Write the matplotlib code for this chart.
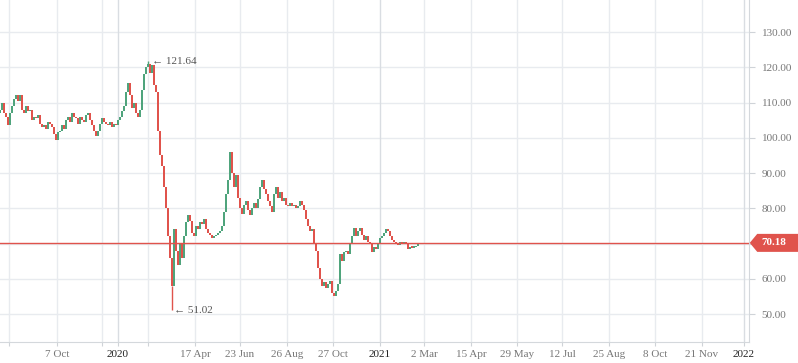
import numpy as np
import matplotlib.pyplot as plt
import matplotlib.transforms as mtransforms
from matplotlib.patches import Polygon

# daily closes, one every 2 trading days (position unit = 1 trading day)
closes = [
    108, 110, 107, 106, 103.5, 107, 109, 111, 112, 110.5,
    112, 108, 107, 109, 107.5, 108, 105, 106, 105.5, 106.5,
    104, 103, 103.5, 102.5, 104.5, 104, 103, 101, 99.5, 101.5,
    102, 103.5, 102.5, 105, 106, 104.5, 107, 106, 105.5, 104,
    106, 105, 104.5, 106.5, 107, 105, 103.5, 102, 100.5, 102,
    104, 105.5, 104.5, 104, 103.5, 104.5, 103, 104, 103.5, 105,
    106, 107.5, 109, 113, 115.5, 112, 108.5, 110, 107, 106,
    108, 113.5, 118, 120, 121, 118.5, 120.5, 115, 113, 102,
    95, 92, 86, 80, 72, 66, 58, 74, 68, 64,
    70, 66, 72, 76, 78, 76.5, 73, 72, 75, 74,
    76, 75.5, 77, 74, 73, 72.5, 71.5, 72, 72.5, 73,
    73.5, 75, 79, 84, 88, 96, 90, 86, 89.5, 83,
    80, 78.5, 81, 82, 79.5, 78, 80, 81.5, 80, 82.5,
    86, 88, 85.5, 84, 82, 80.5, 79, 84, 86, 83,
    84.5, 82, 83, 81, 80.5, 81.5, 80.5, 81, 80, 80.5,
    82, 81, 79.5, 77, 75, 73.5, 74, 70, 68, 63,
    60, 58, 59, 57.5, 58.5, 59.5, 56, 55, 56.5, 58.5,
    67, 65, 67.5, 68, 67, 70, 72, 74.5, 72, 73.5,
    74.5, 72.5, 71, 72, 70.5, 70, 67.5, 69, 68.5, 70,
    71.5, 72, 73, 74, 73.5, 72, 71, 70.5, 70, 69.5,
    70.5, 70, 70.3, 69.8, 68.5, 69, 68.8, 69, 69.2, 70.18,
]
first_open = 107
high_value = 121.64
high_bar = 74
low_value = 51.02
low_bar = 86
last_price = 70.18

tick_pos = [9, 57, 102, 118, 148, 195, 240, 287, 333, 380, 424,
            471, 517, 562, 609, 655, 702, 744]
tick_labels = ['', '7 Oct', '', '2020', '', '17 Apr', '23 Jun', '26 Aug',
               '27 Oct', '2021', '2 Mar', '15 Apr', '29 May', '12 Jul',
               '25 Aug', '8 Oct', '21 Nov', '2022']
price_ticks = [50, 60, 70, 80, 90, 100, 110, 120, 130]

up_col = '#4fa47c'
down_col = '#e0534c'
grid_col = '#e8ebef'
serif = ['Liberation Serif', 'DejaVu Serif']

closes = np.array(closes)
opens = np.concatenate([[first_open], closes[:-1]])
xs = np.arange(len(closes)) * 2
colors = [up_col if c >= o else down_col for o, c in zip(opens, closes)]
bottoms = np.minimum(opens, closes)
heights = np.maximum(np.abs(closes - opens), 0.4)

fig = plt.figure(figsize=(7.98, 3.63), dpi=100)
ax = fig.add_axes([0, 21 / 363, 749 / 798, 342 / 363])

for p in price_ticks:
    ax.axhline(p, color=grid_col, lw=1, zorder=0)
for t, lab in zip(tick_pos, tick_labels):
    c = '#d9dde2' if lab in ('2020', '2021', '2022') else grid_col
    ax.axvline(t, color=c, lw=1, zorder=0)

ax.bar(xs, heights, bottom=bottoms, width=1.3, color=colors, linewidth=0, zorder=2)
ax.vlines(xs[high_bar], closes[high_bar], high_value, color=colors[high_bar], lw=1, zorder=2)
ax.vlines(xs[low_bar], low_value, closes[low_bar], color=colors[low_bar], lw=1, zorder=2)

ax.axhline(last_price, color=down_col, lw=1, zorder=3)

ax.text(xs[high_bar] + 4, high_value, '\u2190 121.64', fontsize=8, family=serif,
        color='#555555', va='center', ha='left')
ax.text(xs[low_bar] + 2, low_value, '\u2190 51.02', fontsize=8, family=serif,
        color='#555555', va='center', ha='left')

ax.set_xlim(0, 749)
ax.set_ylim(42.06, 139.08)

ax.set_xticks(tick_pos)
ax.set_xticklabels(tick_labels, fontsize=8, family=serif, color='#777777')
for lab in ax.get_xticklabels():
    if lab.get_text() in ('2020', '2021', '2022'):
        lab.set_color('#222222')
ax.tick_params(axis='x', length=3, color='#cfd3d8', pad=3)

# the 70.00 label sits under the last price tag, so it is left blank
ax.yaxis.tick_right()
ax.set_yticks(price_ticks)
ax.set_yticklabels(['' if p == 70 else f'{p:.2f}' for p in price_ticks],
                   fontsize=8, family=serif, color='#777777')
ax.tick_params(axis='y', length=4, color='#cfd3d8', pad=5)

for s in ['top', 'left']:
    ax.spines[s].set_visible(False)
ax.spines['bottom'].set_color('#d4d8dc')
ax.spines['right'].set_color('#d4d8dc')

# last price tag on the price axis
trans = mtransforms.blended_transform_factory(ax.transAxes, ax.transData)
half = 9 / 3.525
tag = Polygon([(1.001, last_price), (1.011, last_price + half), (1.07, last_price + half),
               (1.07, last_price - half), (1.011, last_price - half)],
              closed=True, transform=trans, clip_on=False, facecolor=down_col,
              edgecolor='none', zorder=5)
ax.add_patch(tag)
ax.text(1.016, last_price, f'{last_price:.2f}', transform=trans, fontsize=8,
        family=serif, fontweight='bold', color='white', va='center', ha='left',
        clip_on=False, zorder=6)

fig.savefig('out.png', dpi=100)
